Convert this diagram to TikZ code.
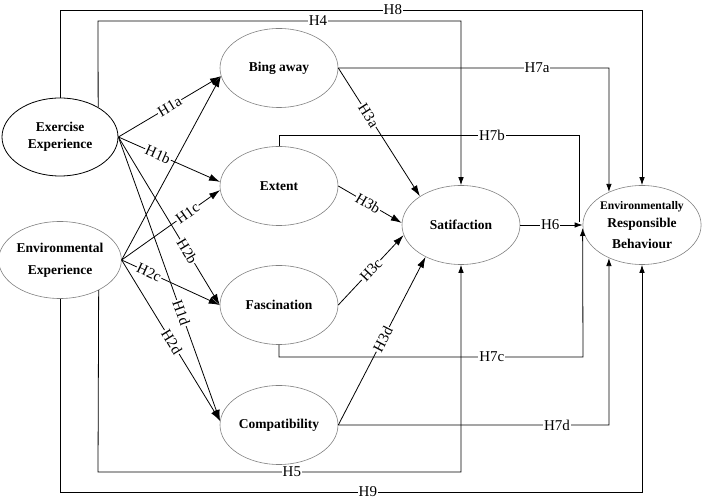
\documentclass[tikz,border=0pt]{standalone}
\usepackage{fontspec}
\setmainfont{Liberation Serif}
\usetikzlibrary{shapes.geometric,arrows.meta}
\tikzset{
  ell/.style={ellipse,draw=gray,line width=0.6pt,minimum width=118pt,minimum height=79pt,inner sep=0pt,align=center,font=\bfseries\fontsize{13.5}{17}\selectfont},
  conn/.style={line width=0.8pt},
  arr/.style={conn,-{Latex[length=8pt,width=5.5pt]}},
  barr/.style={conn,-{Latex[length=11pt,width=7pt]}},
  lab/.style={fill=white,inner sep=1pt,font=\fontsize{15}{15}\selectfont},
  slab/.style={lab,sloped}
}
\begin{document}
\begin{tikzpicture}[x=1pt,y=-1pt]
\useasboundingbox (0,0) rectangle (702,502);
% nodes
\node[ell,draw=black,line width=0.8pt,minimum width=116pt,minimum height=78pt] (ex) at (60,137) {Exercise\\Experience};
\node[ell,minimum width=116pt,minimum height=77pt] (env) at (60,260) {Environmental\\[5pt]Experience};
\node[ell] (ba) at (279,68) {Bing away};
\node[ell] (ext) at (279,186) {Extent};
\node[ell] (fa) at (279,305) {Fascination};
\node[ell] (co) at (279,425) {Compatibility};
\node[ell] (sa) at (461,225) {Satifaction};
\node[ell] (erb) at (642,225) {{\fontsize{11.6}{13}\selectfont Environmentally}\\[1pt]Responsible\\[4pt]Behaviour};
% corner coordinates
\coordinate (h8a) at (60,10);
\coordinate (h8b) at (642,10);
\coordinate (h4a) at (98,21);
\coordinate (h4b) at (461,21);
\coordinate (h7aa) at (609,68);
\coordinate (h7ba) at (279,135);
\coordinate (h7bb) at (579,135);
\coordinate (h7bc) at (579,222);
\coordinate (h7ca) at (279,357);
\coordinate (h7cb) at (583,357);
\coordinate (h7da) at (609,425);
\coordinate (h9a) at (60,492);
\coordinate (h9b) at (642,492);
\coordinate (h5a) at (98,472);
\coordinate (h5b) at (461,472);
% orthogonal connectors
\draw[arr] (ex.north) -- (h8a) -- node[lab,pos=0.572]{H8} (h8b) -- (erb.north);
\draw[arr] (ex.38) -- (h4a) -- node[lab,pos=0.606]{H4} (h4b) -- (sa.north);
\draw[arr] (ba.east) -- node[lab,pos=0.734]{H7a} (h7aa) -- (erb.135);
\draw[conn] (ext.north) -- (h7ba) -- node[lab,pos=0.71]{H7b} (h7bb) -- (h7bc);
\draw[arr] (fa.south) -- (h7ca) -- node[lab,pos=0.70]{H7c} (h7cb) -- ([yshift=-3pt]erb.west);
\draw[arr] (co.east) -- node[lab,pos=0.808]{H7d} (h7da) -- (erb.225);
\draw[arr] (env.south) -- (h9a) -- node[lab,pos=0.529]{H9} (h9b) -- (erb.south);
\draw[arr] (env.-38) -- (h5a) -- node[lab,pos=0.534]{H5} (h5b) -- (sa.south);
\draw[arr] (sa.east) -- node[lab,pos=0.48]{H6} (erb.west);
% diagonal connectors
\draw[barr] (ex.east) -- node[slab,pos=0.5]{H1a} (ba.188);
\draw[barr] (env.east) -- (ba.188);
\draw[barr] (ex.east) -- node[slab,pos=0.39]{H1b} (ext.176);
\draw[barr] (env.east) -- node[slab,pos=0.67]{H1c} (ext.184);
\draw[barr] (ex.east) -- node[slab,pos=0.62]{H1d} (co.176);
\draw[barr] (ex.east) -- node[slab,pos=0.68]{H2b} (fa.180);
\draw[barr] (env.east) -- node[slab,pos=0.28]{H2c} (fa.180);
\draw[barr] (env.east) -- node[slab,pos=0.51]{H2d} (co.176);
\draw[barr] (ba.east) -- node[slab,pos=0.37]{H3a} (sa.145);
\draw[barr] (ext.east) -- node[slab,pos=0.47]{H3b} (sa.178);
\draw[barr] (fa.east) -- node[slab,pos=0.5]{H3c} (sa.190);
\draw[barr] (co.east) -- node[slab,pos=0.51]{H3d} (sa.222);
\end{tikzpicture}
\end{document}
